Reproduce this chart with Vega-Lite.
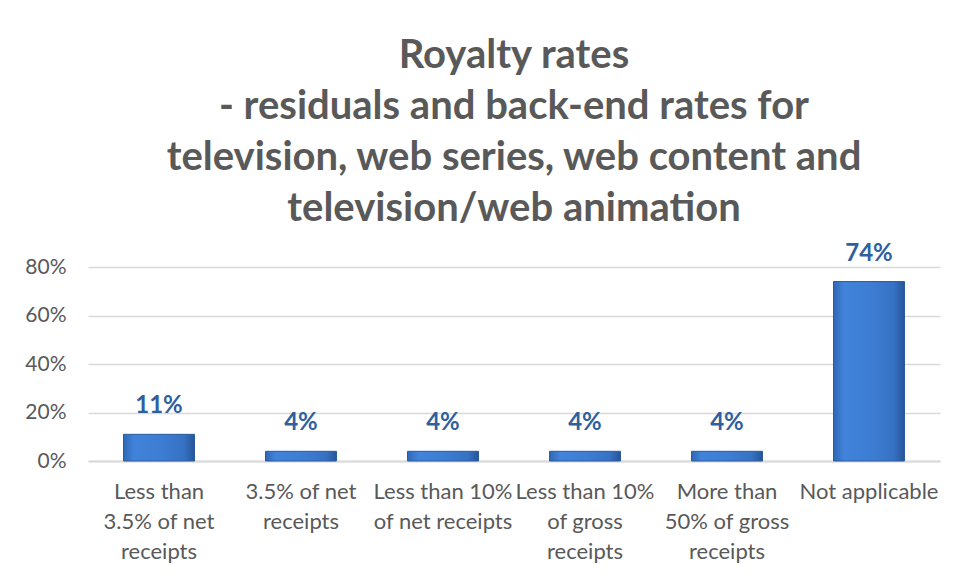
{
  "$schema": "https://vega.github.io/schema/vega-lite/v6.json",
  "autosize": {"type": "none"},
  "width": 852,
  "height": 194,
  "padding": {"left": 88, "top": 267, "right": 17, "bottom": 117},
  "background": "#ffffff",
  "config": {
    "font": "Lato",
    "view": {"stroke": null}
  },
  "title": {
    "text": ["Royalty rates", "- residuals and back-end rates for", "television, web series, web content and", "television/web animation"],
    "font": "Lato",
    "fontSize": 40,
    "fontWeight": "bold",
    "color": "#595959",
    "lineHeight": 51,
    "anchor": "middle",
    "frame": "group",
    "offset": 13
  },
  "data": {
    "values": [
      {"category": "Less than 3.5% of net receipts", "share": 0.11},
      {"category": "3.5% of net receipts", "share": 0.04},
      {"category": "Less than 10% of net receipts", "share": 0.04},
      {"category": "Less than 10% of gross receipts", "share": 0.04},
      {"category": "More than 50% of gross receipts", "share": 0.04},
      {"category": "Not applicable", "share": 0.74}
    ]
  },
  "encoding": {
    "x": {
      "field": "category",
      "type": "nominal",
      "sort": null,
      "scale": {"paddingInner": 0.5, "paddingOuter": 0.25},
      "axis": {
        "title": null,
        "labelAngle": 0,
        "labelFontSize": 22,
        "labelColor": "#595959",
        "labelLineHeight": 30,
        "labelPadding": 20,
        "labelBaseline": "top",
        "ticks": false,
        "domainColor": "#d9d9d9",
        "domainWidth": 2,
        "labelLimit": 200,
        "labelExpr": "datum.label == 'Less than 3.5% of net receipts' ? ['Less than', '3.5% of net', 'receipts'] : datum.label == '3.5% of net receipts' ? ['3.5% of net', 'receipts'] : datum.label == 'Less than 10% of net receipts' ? ['Less than 10%', 'of net receipts'] : datum.label == 'Less than 10% of gross receipts' ? ['Less than 10%', 'of gross', 'receipts'] : datum.label == 'More than 50% of gross receipts' ? ['More than', '50% of gross', 'receipts'] : datum.label"
      }
    },
    "y": {
      "field": "share",
      "type": "quantitative",
      "scale": {"domain": [0, 0.8]},
      "axis": {
        "title": null,
        "format": ".0%",
        "values": [0, 0.2, 0.4, 0.6, 0.8],
        "labelFontSize": 21,
        "labelColor": "#595959",
        "labelPadding": 22,
        "ticks": false,
        "domain": false,
        "gridColor": "#d9d9d9",
        "gridWidth": 1.5
      }
    }
  },
  "layer": [
    {
      "mark": {
        "type": "bar",
        "stroke": "#2c5b9c",
        "strokeWidth": 1,
        "color": {
          "gradient": "linear",
          "x1": 0, "x2": 1, "y1": 0, "y2": 0,
          "stops": [
            {"offset": 0, "color": "#2f68b5"},
            {"offset": 0.15, "color": "#4183da"},
            {"offset": 0.5, "color": "#3d7ed4"},
            {"offset": 0.85, "color": "#3672c3"},
            {"offset": 1, "color": "#26559a"}
          ]
        }
      }
    },
    {
      "mark": {
        "type": "text",
        "baseline": "bottom",
        "dy": -16,
        "fontSize": 24,
        "fontWeight": "bold",
        "color": "#2f5f9e"
      },
      "encoding": {
        "text": {"field": "share", "type": "quantitative", "format": ".0%"}
      }
    }
  ]
}
